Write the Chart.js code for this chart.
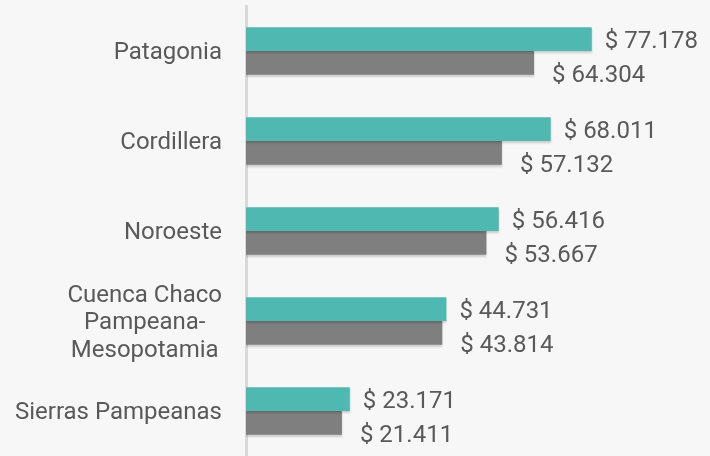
<!DOCTYPE html>
<html>
<head>
<meta charset="utf-8">
<script src="https://cdn.jsdelivr.net/npm/chart.js@4"></script>
<style>
	html, body { margin: 0; padding: 0; background: #f7f7f7; }
	#wrap { width: 710px; height: 456px; }
</style>
</head>
<body>
<div id="wrap"><canvas id="chart-bar"></canvas></div>
<script>
'use strict';

// Data
var regiones = [
	'Patagonia',
	'Cordillera',
	'Noroeste',
	['Cuenca Chaco', 'Pampeana-', 'Mesopotamia'],
	'Sierras Pampeanas'
];
var serieA = [77178, 68011, 56416, 44731, 23171];
var serieB = [64304, 57132, 53667, 43814, 21411];

var textColor = '#595959';
var fontFamily = 'Roboto, "Noto Sans", sans-serif';

function formatPesos(v) {
	return '$ ' + v.toString().replace(/\B(?=(\d{3})+(?!\d))/g, '.');
}

// draws category names: lines centered inside a right aligned block
var categoryLabels = {
	id: 'categoryLabels',
	afterDraw: function (chart) {
		var ctx = chart.ctx;
		var yScale = chart.scales.y;
		var right = chart.chartArea.left - 24;
		ctx.save();
		ctx.font = '24px ' + fontFamily;
		ctx.fillStyle = textColor;
		ctx.textAlign = 'center';
		ctx.textBaseline = 'middle';
		regiones.forEach(function (label, i) {
			var lines = Array.isArray(label) ? label : [label];
			var maxW = 0;
			lines.forEach(function (l) { maxW = Math.max(maxW, ctx.measureText(l).width); });
			var cx = right - maxW / 2;
			var cy = yScale.getPixelForTick(i) + 2;
			var lh = 27.5;
			lines.forEach(function (l, j) {
				ctx.fillText(l, cx, cy + (j - (lines.length - 1) / 2) * lh);
			});
		});
		ctx.restore();
	}
};

// value labels after each bar
var valueLabels = {
	id: 'valueLabels',
	afterDatasetsDraw: function (chart) {
		var ctx = chart.ctx;
		ctx.save();
		ctx.font = '24px ' + fontFamily;
		ctx.fillStyle = textColor;
		ctx.textAlign = 'left';
		ctx.textBaseline = 'middle';
		chart.data.datasets.forEach(function (ds, d) {
			chart.getDatasetMeta(d).data.forEach(function (bar, i) {
				var dx = d === 0 ? 13 : 18;
				var dy = d === 0 ? 3 : 13;
				ctx.fillText(formatPesos(ds.data[i]), bar.x + dx, bar.y + dy);
			});
		});
		ctx.restore();
	}
};

// soft shadow under bars
var barShadow = {
	id: 'barShadow',
	beforeDatasetsDraw: function (chart) {
		var ctx = chart.ctx;
		ctx.save();
		ctx.shadowColor = 'rgba(0,0,0,0.18)';
		ctx.shadowBlur = 2;
		ctx.shadowOffsetX = 0;
		ctx.shadowOffsetY = 2;
	},
	afterDatasetsDraw: function (chart) {
		chart.ctx.restore();
	}
};

var BarChart = (function () {
	var $chart = document.getElementById('chart-bar');

	function init($this) {
		var barChart = new Chart($this, {
			type: 'bar',
			data: {
				labels: regiones,
				datasets: [{
					label: 'Serie 1',
					data: serieA,
					backgroundColor: '#4fb8b1',
					categoryPercentage: 0.53,
					barPercentage: 1
				}, {
					label: 'Serie 2',
					data: serieB,
					backgroundColor: '#7f7f7f',
					categoryPercentage: 0.53,
					barPercentage: 1
				}]
			},
			options: {
				indexAxis: 'y',
				responsive: true,
				maintainAspectRatio: false,
				animation: false,
				layout: {
					padding: { top: 6, bottom: -2, right: 16, left: 0 }
				},
				plugins: {
					legend: { display: false },
					tooltip: { enabled: false }
				},
				scales: {
					x: {
						display: false,
						min: 0,
						max: 100000
					},
					y: {
						afterFit: function (scale) { scale.width = 246; },
						grid: { display: false, drawTicks: false },
						border: { display: true, color: '#d9d9d9', width: 3 },
						ticks: { display: false }
					}
				}
			},
			plugins: [barShadow, valueLabels, categoryLabels]
		});
		$this.chart = barChart;
	}

	if ($chart) {
		init($chart);
	}
})();
</script>
</body>
</html>
